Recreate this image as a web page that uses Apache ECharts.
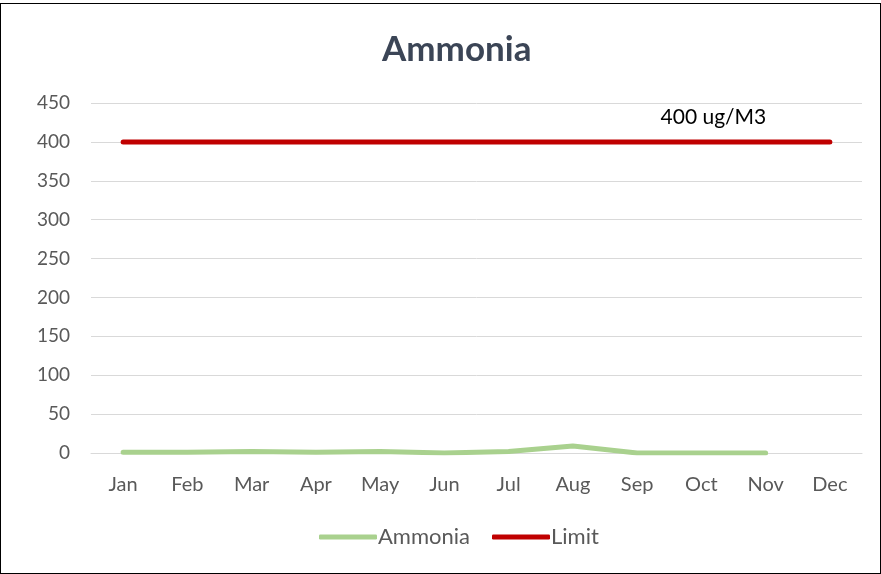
<!DOCTYPE html>
<html><head><meta charset="utf-8">
<script src="https://cdn.jsdelivr.net/npm/echarts@6/dist/echarts.min.js"></script>
<style>
html,body{margin:0;padding:0;background:#fff;}
#wrap{position:absolute;left:0;top:3px;width:879px;height:569px;border:1px solid #000;}
#c{width:879px;height:569px;}
</style></head><body>
<div id="wrap"><div id="c"></div></div>
<script>
const months = ['Jan','Feb','Mar','Apr','May','Jun','Jul','Aug','Sep','Oct','Nov','Dec'];
const ammonia = [1, 1, 2, 1, 2, 0, 2, 9, 0, 0, 0, null];
const limit = [400,400,400,400,400,400,400,400,400,400,400,400];
const limitLabel = '400 ug/M3';
const yTicks = {min:0, max:450, interval:50};

const font = 'Lato, "Open Sans", sans-serif';
const chart = echarts.init(document.getElementById('c'));
chart.setOption({
  animation:false,
  title:{text:'Ammonia', left:376, top:23, textStyle:{fontFamily:font, fontSize:35, fontWeight:'bold', color:'#3B4556'}},
  grid:{left:90, right:18, top:99, bottom:120},
  legend:{bottom:20, left:313, itemWidth:58, itemHeight:5, itemGap:22,
    textStyle:{fontFamily:font, fontSize:22, color:'#595959', padding:[0,0,0,-4]},
    data:[{name:'Ammonia', icon:'roundRect'},{name:'Limit', icon:'roundRect'}]},
  xAxis:{type:'category', data:months, boundaryGap:true,
    axisLine:{lineStyle:{color:'#d9d9d9'}}, axisTick:{show:false},
    axisLabel:{fontFamily:font, fontSize:20, color:'#595959', margin:22}},
  yAxis:{type:'value', min:yTicks.min, max:yTicks.max, interval:yTicks.interval,
    axisLine:{show:false}, axisTick:{show:false},
    splitLine:{lineStyle:{color:'#d9d9d9', width:1}},
    axisLabel:{fontFamily:font, fontSize:19, color:'#595959', margin:21}},
  series:[
    {name:'Ammonia', type:'line', data:ammonia, symbol:'none', smooth:false,
     lineStyle:{color:'#A9D18E', width:5, cap:'round', join:'round'}, itemStyle:{color:'#A9D18E'}},
    {name:'Limit', type:'line', symbol:'circle', symbolSize:0, showSymbol:true,
     data: limit.map((v,i)=> i===9 ? {value:v, label:{show:true, position:'top', formatter:limitLabel, offset:[12,-9], fontFamily:font, fontSize:21, color:'#000'}} : v),
     lineStyle:{color:'#C00000', width:5, cap:'round'}, itemStyle:{color:'#C00000'}}
  ]
});
</script></body></html>
